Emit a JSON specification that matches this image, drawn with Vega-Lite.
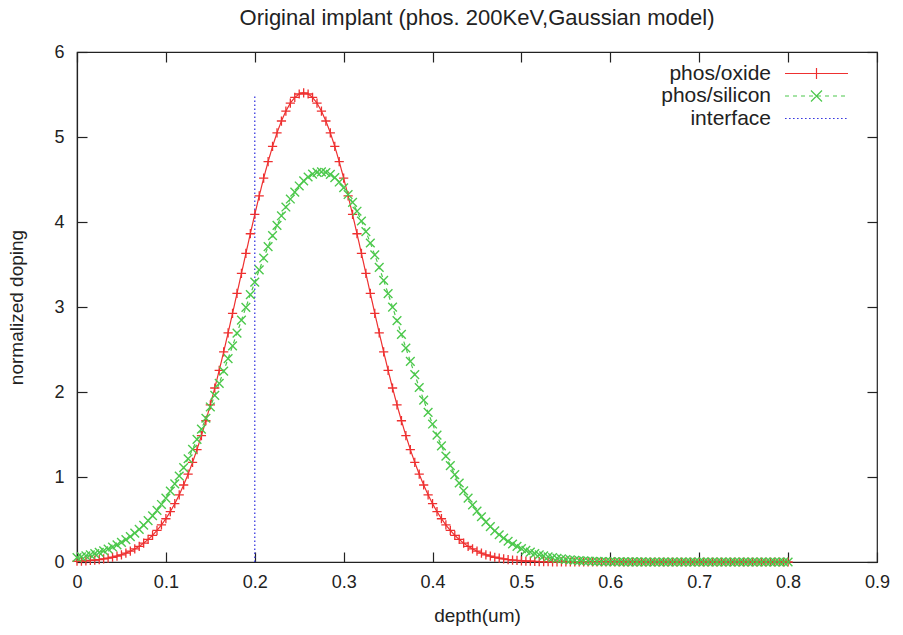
{
  "$schema": "https://vega.github.io/schema/vega-lite/v6.json",
  "width": 800,
  "height": 510,
  "autosize": "none",
  "padding": {"left": 77, "top": 52, "right": 26, "bottom": 73},
  "background": "white",
  "title": {"text": "Original implant (phos. 200KeV,Gaussian model)", "frame": "group", "anchor": "middle", "font": "Liberation Sans", "fontSize": 22, "fontWeight": "normal", "color": "#222", "offset": 13},
  "config": {
    "font": "Liberation Sans",
    "view": {"stroke": "#222", "strokeWidth": 1.2},
    "axis": {"grid": false, "domainColor": "#222", "domainWidth": 1.2, "tickColor": "#222", "tickWidth": 1.2, "tickSize": -10, "labelFont": "Liberation Sans", "labelFontSize": 18, "labelColor": "#222", "labelFlush": false, "titleFont": "Liberation Sans", "titleFontSize": 19, "titleFontWeight": "normal", "titleColor": "#222"}
  },
  "data": {"values": [
    {"depth":0,"oxide":0.009,"silicon":0.053},{"depth":0.005,"oxide":0.011,"silicon":0.062},{"depth":0.01,"oxide":0.014,"silicon":0.073},{"depth":0.015,"oxide":0.018,"silicon":0.085},{"depth":0.02,"oxide":0.023,"silicon":0.099},
    {"depth":0.025,"oxide":0.029,"silicon":0.114},{"depth":0.03,"oxide":0.036,"silicon":0.132},{"depth":0.035,"oxide":0.045,"silicon":0.153},{"depth":0.04,"oxide":0.056,"silicon":0.176},{"depth":0.045,"oxide":0.070,"silicon":0.202},
    {"depth":0.05,"oxide":0.085,"silicon":0.231},{"depth":0.055,"oxide":0.104,"silicon":0.263},{"depth":0.06,"oxide":0.127,"silicon":0.299},{"depth":0.065,"oxide":0.154,"silicon":0.339},{"depth":0.07,"oxide":0.185,"silicon":0.383},
    {"depth":0.075,"oxide":0.222,"silicon":0.432},{"depth":0.08,"oxide":0.265,"silicon":0.486},{"depth":0.085,"oxide":0.314,"silicon":0.544},{"depth":0.09,"oxide":0.371,"silicon":0.608},{"depth":0.095,"oxide":0.436,"silicon":0.677},
    {"depth":0.1,"oxide":0.509,"silicon":0.752},{"depth":0.105,"oxide":0.593,"silicon":0.833},{"depth":0.11,"oxide":0.686,"silicon":0.919},{"depth":0.115,"oxide":0.790,"silicon":1.012},{"depth":0.12,"oxide":0.906,"silicon":1.110},
    {"depth":0.125,"oxide":1.033,"silicon":1.215},{"depth":0.13,"oxide":1.172,"silicon":1.326},{"depth":0.135,"oxide":1.323,"silicon":1.442},{"depth":0.14,"oxide":1.487,"silicon":1.564},{"depth":0.145,"oxide":1.662,"silicon":1.691},
    {"depth":0.15,"oxide":1.849,"silicon":1.824},{"depth":0.155,"oxide":2.047,"silicon":1.961},{"depth":0.16,"oxide":2.255,"silicon":2.102},{"depth":0.165,"oxide":2.472,"silicon":2.246},{"depth":0.17,"oxide":2.696,"silicon":2.393},
    {"depth":0.175,"oxide":2.926,"silicon":2.543},{"depth":0.18,"oxide":3.160,"silicon":2.693},{"depth":0.185,"oxide":3.395,"silicon":2.845},{"depth":0.19,"oxide":3.630,"silicon":2.995},{"depth":0.195,"oxide":3.862,"silicon":3.145},
    {"depth":0.2,"oxide":4.089,"silicon":3.292},{"depth":0.205,"oxide":4.308,"silicon":3.436},{"depth":0.21,"oxide":4.516,"silicon":3.576},{"depth":0.215,"oxide":4.710,"silicon":3.711},{"depth":0.22,"oxide":4.889,"silicon":3.839},
    {"depth":0.225,"oxide":5.049,"silicon":3.960},{"depth":0.23,"oxide":5.188,"silicon":4.073},{"depth":0.235,"oxide":5.305,"silicon":4.176},{"depth":0.24,"oxide":5.398,"silicon":4.270},{"depth":0.245,"oxide":5.466,"silicon":4.352},
    {"depth":0.25,"oxide":5.506,"silicon":4.424},{"depth":0.255,"oxide":5.520,"silicon":4.483},{"depth":0.26,"oxide":5.506,"silicon":4.529},{"depth":0.265,"oxide":5.466,"silicon":4.563},{"depth":0.27,"oxide":5.398,"silicon":4.583},
    {"depth":0.275,"oxide":5.305,"silicon":4.590},{"depth":0.28,"oxide":5.188,"silicon":4.582},{"depth":0.285,"oxide":5.049,"silicon":4.560},{"depth":0.29,"oxide":4.889,"silicon":4.522},{"depth":0.295,"oxide":4.710,"silicon":4.470},
    {"depth":0.3,"oxide":4.516,"silicon":4.403},{"depth":0.305,"oxide":4.308,"silicon":4.323},{"depth":0.31,"oxide":4.089,"silicon":4.231},{"depth":0.315,"oxide":3.862,"silicon":4.127},{"depth":0.32,"oxide":3.630,"silicon":4.012},
    {"depth":0.325,"oxide":3.395,"silicon":3.887},{"depth":0.33,"oxide":3.160,"silicon":3.753},{"depth":0.335,"oxide":2.926,"silicon":3.613},{"depth":0.34,"oxide":2.696,"silicon":3.466},{"depth":0.345,"oxide":2.472,"silicon":3.313},
    {"depth":0.35,"oxide":2.255,"silicon":3.157},{"depth":0.355,"oxide":2.047,"silicon":2.999},{"depth":0.36,"oxide":1.849,"silicon":2.839},{"depth":0.365,"oxide":1.662,"silicon":2.678},{"depth":0.37,"oxide":1.487,"silicon":2.518},
    {"depth":0.375,"oxide":1.323,"silicon":2.360},{"depth":0.38,"oxide":1.172,"silicon":2.205},{"depth":0.385,"oxide":1.033,"silicon":2.053},{"depth":0.39,"oxide":0.906,"silicon":1.905},{"depth":0.395,"oxide":0.790,"silicon":1.761},
    {"depth":0.4,"oxide":0.686,"silicon":1.623},{"depth":0.405,"oxide":0.593,"silicon":1.492},{"depth":0.41,"oxide":0.509,"silicon":1.366},{"depth":0.415,"oxide":0.436,"silicon":1.246},{"depth":0.42,"oxide":0.371,"silicon":1.134},
    {"depth":0.425,"oxide":0.314,"silicon":1.028},{"depth":0.43,"oxide":0.265,"silicon":0.929},{"depth":0.435,"oxide":0.222,"silicon":0.836},{"depth":0.44,"oxide":0.185,"silicon":0.751},{"depth":0.445,"oxide":0.154,"silicon":0.671},
    {"depth":0.45,"oxide":0.127,"silicon":0.599},{"depth":0.455,"oxide":0.104,"silicon":0.532},{"depth":0.46,"oxide":0.085,"silicon":0.471},{"depth":0.465,"oxide":0.070,"silicon":0.416},{"depth":0.47,"oxide":0.056,"silicon":0.366},
    {"depth":0.475,"oxide":0.045,"silicon":0.321},{"depth":0.48,"oxide":0.036,"silicon":0.281},{"depth":0.485,"oxide":0.029,"silicon":0.244},{"depth":0.49,"oxide":0.023,"silicon":0.212},{"depth":0.495,"oxide":0.018,"silicon":0.184},
    {"depth":0.5,"oxide":0.014,"silicon":0.158},{"depth":0.505,"oxide":0.011,"silicon":0.136},{"depth":0.51,"oxide":0.009,"silicon":0.117},{"depth":0.515,"oxide":0.007,"silicon":0.100},{"depth":0.52,"oxide":0.005,"silicon":0.085},
    {"depth":0.525,"oxide":0.004,"silicon":0.072},{"depth":0.53,"oxide":0.003,"silicon":0.061},{"depth":0.535,"oxide":0.002,"silicon":0.051},{"depth":0.54,"oxide":0.002,"silicon":0.043},{"depth":0.545,"oxide":0.001,"silicon":0.036},
    {"depth":0.55,"oxide":0.001,"silicon":0.030},{"depth":0.555,"oxide":0,"silicon":0.025},{"depth":0.56,"oxide":0,"silicon":0.021},{"depth":0.565,"oxide":0,"silicon":0.017},{"depth":0.57,"oxide":0,"silicon":0.014},
    {"depth":0.575,"oxide":0,"silicon":0.012},{"depth":0.58,"oxide":0,"silicon":0.009},{"depth":0.585,"oxide":0,"silicon":0.008},{"depth":0.59,"oxide":0,"silicon":0.006},{"depth":0.595,"oxide":0,"silicon":0.005},
    {"depth":0.6,"oxide":0,"silicon":0.004},{"depth":0.605,"oxide":0,"silicon":0.003},{"depth":0.61,"oxide":0,"silicon":0.003},{"depth":0.615,"oxide":0,"silicon":0.002},{"depth":0.62,"oxide":0,"silicon":0.002},
    {"depth":0.625,"oxide":0,"silicon":0.001},{"depth":0.63,"oxide":0,"silicon":0.001},{"depth":0.635,"oxide":0,"silicon":0.001},{"depth":0.64,"oxide":0,"silicon":0},{"depth":0.645,"oxide":0,"silicon":0},
    {"depth":0.65,"oxide":0,"silicon":0},{"depth":0.655,"oxide":0,"silicon":0},{"depth":0.66,"oxide":0,"silicon":0},{"depth":0.665,"oxide":0,"silicon":0},{"depth":0.67,"oxide":0,"silicon":0},
    {"depth":0.675,"oxide":0,"silicon":0},{"depth":0.68,"oxide":0,"silicon":0},{"depth":0.685,"oxide":0,"silicon":0},{"depth":0.69,"oxide":0,"silicon":0},{"depth":0.695,"oxide":0,"silicon":0},
    {"depth":0.7,"oxide":0,"silicon":0},{"depth":0.705,"oxide":0,"silicon":0},{"depth":0.71,"oxide":0,"silicon":0},{"depth":0.715,"oxide":0,"silicon":0},{"depth":0.72,"oxide":0,"silicon":0},
    {"depth":0.725,"oxide":0,"silicon":0},{"depth":0.73,"oxide":0,"silicon":0},{"depth":0.735,"oxide":0,"silicon":0},{"depth":0.74,"oxide":0,"silicon":0},{"depth":0.745,"oxide":0,"silicon":0},
    {"depth":0.75,"oxide":0,"silicon":0},{"depth":0.755,"oxide":0,"silicon":0},{"depth":0.76,"oxide":0,"silicon":0},{"depth":0.765,"oxide":0,"silicon":0},{"depth":0.77,"oxide":0,"silicon":0},
    {"depth":0.775,"oxide":0,"silicon":0},{"depth":0.78,"oxide":0,"silicon":0},{"depth":0.785,"oxide":0,"silicon":0},{"depth":0.79,"oxide":0,"silicon":0},{"depth":0.795,"oxide":0,"silicon":0},
    {"depth":0.8,"oxide":0,"silicon":0}
  ]},
  "layer": [
    {
      "transform": [{"fold": ["oxide", "silicon"], "as": ["series", "doping"]}],
      "mark": {"type": "line", "strokeWidth": 1.2},
      "encoding": {
        "x": {"field": "depth", "type": "quantitative", "scale": {"domain": [0, 0.9], "nice": false, "zero": false},
              "axis": {"orient": "bottom", "values": [0, 0.1, 0.2, 0.3, 0.4, 0.5, 0.6, 0.7, 0.8, 0.9], "format": ".1~f", "title": "depth(um)", "labelPadding": 21, "titlePadding": 15}},
        "y": {"field": "doping", "type": "quantitative", "scale": {"domain": [0, 6], "nice": false},
              "axis": {"orient": "left", "values": [0, 1, 2, 3, 4, 5, 6], "title": "normalized doping", "labelPadding": 23, "titlePadding": 27}},
        "color": {"field": "series", "type": "nominal",
                  "scale": {"domain": ["oxide", "silicon", "interface"], "range": ["#ee3030", "#4cc84c", "#3a3ae0"]},
                  "legend": {"orient": "none", "legendX": 729, "legendY": 11, "padding": 0, "title": null, "labelAlign": "right", "labelOffset": -56, "labelFont": "Liberation Sans", "labelFontSize": 21, "labelColor": "#222", "labelLimit": 400, "symbolSize": 100, "symbolStrokeWidth": 1.2, "rowPadding": 0.5,
                             "labelExpr": "datum.value == 'oxide' ? 'phos/oxide' : datum.value == 'silicon' ? 'phos/silicon' : 'interface'",
                             "encode": {"symbols": {"update": {
                               "shape": {"signal": "datum.value == 'oxide' ? 'M-6.3,0H6.3M0,-1.1V1.1' : datum.value == 'silicon' ? 'M-6.3,0H6.3M0,0L0.55,0.55M0.55,0.55L1.1,1.1M0,0L-0.55,0.55M-0.55,0.55L-1.1,1.1M0,0L0.55,-0.55M0.55,-0.55L1.1,-1.1M0,0L-0.55,-0.55M-0.55,-0.55L-1.1,-1.1' : 'M-6.3,0H6.3'"},
                               "stroke": {"signal": "datum.value == 'oxide' ? '#ee3030' : datum.value == 'silicon' ? '#4cc84c' : '#3a3ae0'"}}}}}},
        "strokeDash": {"field": "series", "type": "nominal",
                       "scale": {"domain": ["oxide", "silicon", "interface"], "range": [[1, 0], [4, 4], [1.6, 2.4]]},
                       "legend": {"orient": "none", "legendX": 729, "legendY": 11, "padding": 0, "title": null, "labelAlign": "right", "labelOffset": -56, "labelFont": "Liberation Sans", "labelFontSize": 21, "labelColor": "#222", "labelLimit": 400, "symbolSize": 100, "symbolStrokeWidth": 1.2, "rowPadding": 0.5,
                                  "labelExpr": "datum.value == 'oxide' ? 'phos/oxide' : datum.value == 'silicon' ? 'phos/silicon' : 'interface'",
                                  "encode": {"symbols": {"update": {
                                    "shape": {"signal": "datum.value == 'oxide' ? 'M-6.3,0H6.3M0,-1.1V1.1' : datum.value == 'silicon' ? 'M-6.3,0H6.3M0,0L0.55,0.55M0.55,0.55L1.1,1.1M0,0L-0.55,0.55M-0.55,0.55L-1.1,1.1M0,0L0.55,-0.55M0.55,-0.55L1.1,-1.1M0,0L-0.55,-0.55M-0.55,-0.55L-1.1,-1.1' : 'M-6.3,0H6.3'"},
                                    "stroke": {"signal": "datum.value == 'oxide' ? '#ee3030' : datum.value == 'silicon' ? '#4cc84c' : '#3a3ae0'"}}}}}}
      }
    },
    {
      "data": {"values": [{"depth": 0.2, "doping": 0, "series": "interface"}, {"depth": 0.2, "doping": 5.5, "series": "interface"}]},
      "mark": {"type": "line", "strokeWidth": 1.3},
      "encoding": {
        "x": {"field": "depth", "type": "quantitative", "scale": {"domain": [0, 0.9], "nice": false, "zero": false},
              "axis": {"orient": "top", "values": [0, 0.1, 0.2, 0.3, 0.4, 0.5, 0.6, 0.7, 0.8, 0.9], "labels": false, "domain": false, "title": null}},
        "y": {"field": "doping", "type": "quantitative", "scale": {"domain": [0, 6], "nice": false},
              "axis": {"orient": "right", "values": [0, 1, 2, 3, 4, 5, 6], "labels": false, "domain": false, "title": null}},
        "color": {"field": "series", "type": "nominal"},
        "strokeDash": {"field": "series", "type": "nominal"}
      }
    },
    {
      "mark": {"type": "point", "shape": "M-1,0H1M0,-1V1", "filled": false, "color": "#ee3030", "size": 85, "strokeWidth": 1.3, "opacity": 1},
      "encoding": {
        "x": {"field": "depth", "type": "quantitative", "axis": null},
        "y": {"field": "oxide", "type": "quantitative", "axis": null}
      }
    },
    {
      "mark": {"type": "point", "shape": "M-1,-1L1,1M-1,1L1,-1", "filled": false, "color": "#4cc84c", "size": 75, "strokeWidth": 1.4, "opacity": 1},
      "encoding": {
        "x": {"field": "depth", "type": "quantitative", "axis": null},
        "y": {"field": "silicon", "type": "quantitative", "axis": null}
      }
    }
  ],
  "resolve": {"axis": {"x": "independent", "y": "independent"}}
}
